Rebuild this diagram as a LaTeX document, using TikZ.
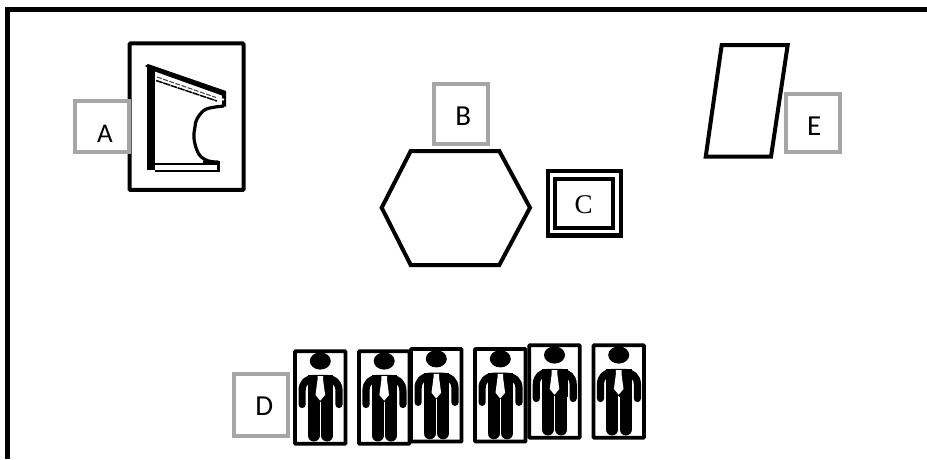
\documentclass[tikz,border=0pt]{standalone}
\usepackage{fontspec}
\setmainfont{Carlito}
\newfontfamily\serifC{Liberation Serif}
\definecolor{labelgray}{HTML}{A6A6A6}
\tikzset{
  x=1pt,y=-1pt,
  labelbox/.style={draw=labelgray,fill=white,line width=4pt,rectangle,inner sep=0pt,minimum width=54pt,minimum height=#1},
  labelbox/.default=62pt,
  labeltext/.style={inner sep=0pt,font=\fontsize{29}{31}\selectfont},
  blackshape/.style={draw=black,line width=4pt,line join=miter,fill=white},
  personbox/.style={draw=black,fill=white,line width=3.8pt,rounded corners=0.8pt,rectangle,inner sep=0pt,minimum width=50.5pt,minimum height=92.5pt},
  iconbox/.style={draw=black,fill=white,line width=4pt,rounded corners=1pt,rectangle,inner sep=0pt,minimum width=114pt,minimum height=146.5pt},
  doublebox/.style={draw=black,line width=4.2pt,rectangle,inner sep=0pt,fill=white},
  person/.pic={
    \fill (0,-36.5) ellipse [x radius=10.5pt,y radius=8.6pt];
    \draw[line width=7.2pt,line cap=round,line join=round] (-18.2,7) -- (-18.2,-7) .. controls (-18.2,-15) and (-13,-19) .. (-7,-19) -- (7,-19) .. controls (13,-19) and (18.7,-15) .. (18.7,-7) -- (18.7,7);
    \fill (-12.5,-22.6) rectangle (13,5);
    \draw[line width=12pt,line cap=round] (-6.6,0) -- (-6.6,38);
    \draw[line width=12pt,line cap=round] (6.9,0) -- (6.9,38);
    \draw[white,line width=1.1pt] (0.2,4) -- (0.2,43);
    \fill[white] (-2.8,-21.5) -- (2.8,-21.5) -- (2.8,-17.5) -- (4.8,-2.5) -- (0,3.2) -- (-4.8,-2.5) -- (-2.8,-17.5) -- cycle;
  }
}
\begin{document}
\begin{tikzpicture}
\useasboundingbox (0,0) rectangle (927,459);
\fill[white] (0,0) rectangle (927,459);
\coordinate (frameBL) at (7.5,459);
\coordinate (frameTL) at (7.5,9.5);
\coordinate (frameTR) at (927,9.5);
\draw[line width=4.5pt] (frameBL) -- (frameTL) -- (frameTR);

% A
\node[iconbox] (iconA) at (186.5,116.7) {};
\fill (147.3,66) rectangle (155,170);
\fill (145,66) -- (148,64) -- (226,91) -- (226,106.5) -- (222,106.5) -- (222,95.5) -- (155,71.5) -- cycle;
\draw[line width=1.1pt,dash pattern=on 5pt off 1.5pt,black!70] (157,77) -- (216,97.5);
\draw[line width=1.5pt,dash pattern=on 7pt off 0.7pt] (156,80.5) -- (217,101);
\fill[white] (223,99.5) circle (1.3pt);
\draw[line width=3.2pt,line join=round] (224,106) .. controls (214,107) and (206,108) .. (203,111) .. controls (198,116) and (195,121) .. (195,127) .. controls (193.5,134) and (193.5,138) .. (195,144) .. controls (197,152) and (199,156) .. (204,159) .. controls (209,162) and (214,162) .. (218.3,162);
\fill (203,161) rectangle (219.5,165);
\fill (217,162) rectangle (219.5,172);
\draw[line width=2pt] (155,164) -- (218,164);
\draw[line width=2pt] (155,171.3) -- (218,171.3);
\node[labelbox=50.5pt] (boxA) at (102.3,126.7) {};
\node[labeltext,font=\fontsize{27}{29}\selectfont] (textA) at (105,134) {A};

% B
\draw[blackshape] (381.7,207.7) -- (410.7,151) -- (499.3,151) -- (530,207.7) -- (499.3,265) -- (410.7,265) -- cycle;
\node[labelbox=60.5pt] (boxB) at (460.5,113.8) {};
\node[labeltext] (textB) at (463.3,116) {B};

% C
\node[doublebox,minimum width=73.4pt,minimum height=64.5pt] (outerC) at (584.5,203.3) {};
\node[doublebox,minimum width=58pt,minimum height=48.7pt] (innerC) at (584.3,203.7) {};
\node[inner sep=0pt,font=\serifC\fontsize{27}{29}\selectfont] (textC) at (583.5,204.5) {C};

% D
\node[labelbox=62pt] (boxD) at (260.5,404.5) {};
\node[labeltext] (textD) at (264.3,405.7) {D};
\node[personbox] (p1) at (320.3,397.5) {};
\pic at (p1) {person};
\node[personbox] (p2) at (384.2,397.5) {};
\pic at (p2) {person};
\node[personbox] (p3) at (436.3,395.3) {};
\pic at (p3) {person};
\node[personbox] (p4) at (500.3,395.3) {};
\pic at (p4) {person};
\node[personbox] (p5) at (554.5,391.5) {};
\pic at (p5) {person};
\node[personbox] (p6) at (618.7,391.5) {};
\pic at (p6) {person};

% E
\draw[blackshape] (721.7,45) -- (787.7,45) -- (771,156.7) -- (705.7,156.7) -- cycle;
\node[labelbox=58pt] (boxE) at (812.8,122.5) {};
\node[labeltext] (textE) at (814.3,126) {E};
\end{tikzpicture}
\end{document}
